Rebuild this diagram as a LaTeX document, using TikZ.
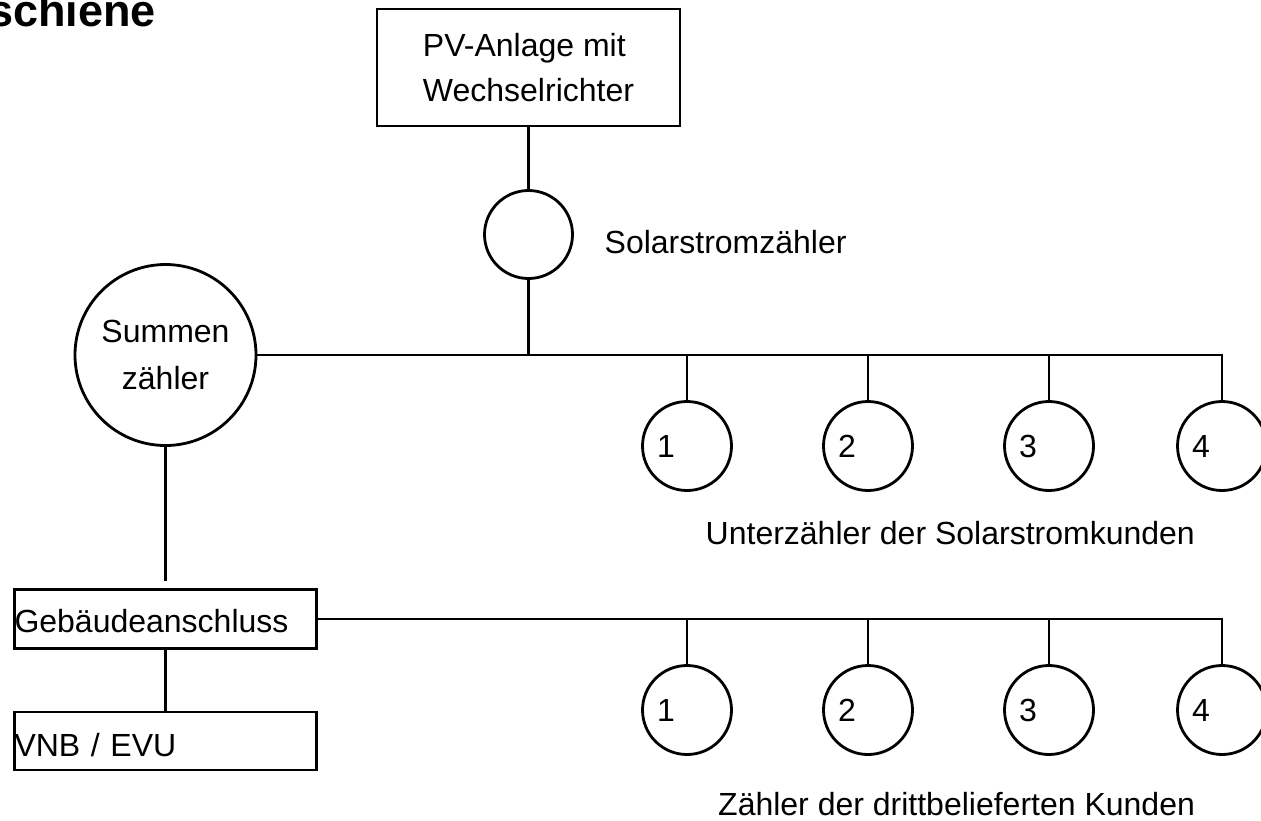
\documentclass[tikz,border=0pt]{standalone}
\usepackage{fontspec}
\setmainfont{Liberation Sans}
\newcommand\meternum[1]{\makebox[60pt][l]{#1}}
\begin{document}
\begin{tikzpicture}[x=1pt,y=-1pt,
  wire/.style={line width=2.8pt},
  lbl/.style={inner sep=0pt, font=\fontsize{32}{38}\selectfont},
  meter/.style={circle, draw, line width=2.8pt, inner sep=0pt, minimum size=89pt,
    font=\fontsize{32}{38}\selectfont},
  box/.style={rectangle, draw, line width=2.8pt, inner sep=0pt,
    font=\fontsize{32}{38}\selectfont}]
\useasboundingbox (0,0) rectangle (1261,820);

% heading (runs off the left edge)
\node[anchor=base east, inner sep=0pt, font=\fontsize{45}{50}\selectfont\bfseries]
  (title) at (156,26) {schiene};

% PV plant and its meter
\node[box, minimum width=303pt, minimum height=117pt, align=left,
  font=\fontsize{32}{45}\selectfont] (pv) at (528.5,67.5)
  {PV-Anlage mit\\Wechselrichter};
\node[meter, minimum size=88pt] (pvm) at (528.5,234.5) {};
\node[lbl, anchor=base west] (pvmlbl) at (604.5,253) {Solarstromzähler};

% summation meter
\node[meter, minimum size=181pt, align=center,
  font=\fontsize{32}{47}\selectfont] (summ) at (165.5,355) {Summen\\zähler};

% building connection and grid operator
\node[box, minimum width=302pt, minimum height=59pt, text width=302pt, align=left,
  text height=28pt, text depth=2pt] (geb) at (165.5,619) {Gebäudeanschluss};
\node[box, minimum width=302pt, minimum height=58pt, text width=302pt, align=left,
  text height=32pt, text depth=2pt] (vnb) at (165.5,741) {VNB / EVU};

% sub-meters of the solar customers
\node[meter] (u1) at (687,446) {\meternum{1}};
\node[meter] (u2) at (868,446) {\meternum{2}};
\node[meter] (u3) at (1049,446) {\meternum{3}};
\node[meter] (u4) at (1222,446) {\meternum{4}};
\node[lbl, anchor=base west] (ulbl) at (705.5,544) {Unterzähler der Solarstromkunden};

% meters of the third-party supplied customers
\node[meter] (d1) at (687,710) {\meternum{1}};
\node[meter] (d2) at (868,710) {\meternum{2}};
\node[meter] (d3) at (1049,710) {\meternum{3}};
\node[meter] (d4) at (1222,710) {\meternum{4}};
\node[lbl, anchor=base west] (dlbl) at (718,815) {Zähler der drittbelieferten Kunden};

% connections
\draw[wire] (pv.south) -- (pvm.north);
\draw[wire] (pvm.south) -- (pvm.south |- summ.east);
\draw[wire] (summ.east) -| (u4.north);
\foreach \m in {u1,u2,u3}
  \draw[wire] (\m.north) -- (\m.north |- summ.east);
\draw[wire, shorten >=7pt] (summ.south) -- (geb.north);
\draw[wire] (geb.south) -- (vnb.north);
\draw[wire] (geb.east) -| (d4.north);
\foreach \m in {d1,d2,d3}
  \draw[wire] (\m.north) -- (\m.north |- geb.east);
\end{tikzpicture}
\end{document}
